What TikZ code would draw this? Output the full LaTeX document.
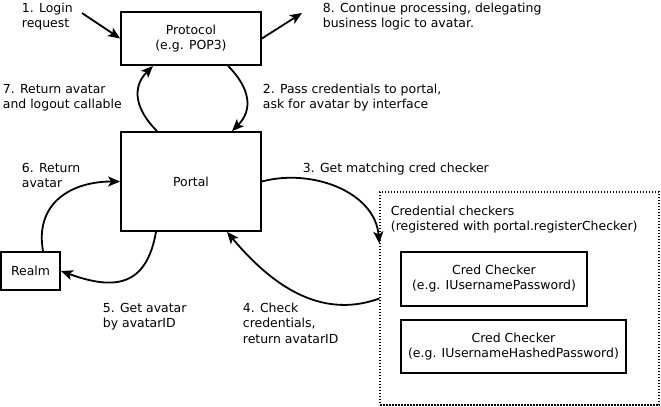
\documentclass[tikz,border=0pt]{standalone}
\usepackage{fontspec}
\setmainfont{DejaVu Sans}
\usetikzlibrary{arrows.meta}
\def\boxnode{\node[draw,inner sep=0pt,align=center]}
\def\textnode{\node[inner sep=0pt,anchor=base west,align=left]}

\begin{document}
\begin{tikzpicture}[x=1bp,y=1bp,line width=1.8bp,>={Stealth[length=12bp,width=10bp,inset=3bp]},font=\fontsize{12.5}{15.5}\selectfont]
\useasboundingbox (0,0) rectangle (661,406);
\boxnode[minimum width=140bp,minimum height=53bp] (proto) at (191,367.5) {Protocol\\(e.g. POP3)};
\boxnode[minimum width=140bp,minimum height=99bp] (portal) at (191,224.5) {Portal};
\boxnode[minimum width=59bp,minimum height=38bp] (realm) at (30.5,135) {Realm};
\node[draw,line width=1.3bp,dash pattern=on 1.5bp off 1.5bp,minimum width=279bp,minimum height=213bp] (creds) at (519.5,107.5) {};
\boxnode[minimum width=186bp,minimum height=54bp] (pw) at (494,127.3) {Cred Checker\\(e.g. IUsernamePassword)};
\boxnode[minimum width=225bp,minimum height=53bp] (hashed) at (513.5,59.7) {Cred Checker\\(e.g. IUsernameHashedPassword)};
\coordinate (req) at (82,393);
\coordinate (fwd) at (302,393);
\textnode (login) at (21,378.5) {1. Login\\request};
\textnode (cont) at (322,378.5) {8. Continue processing, delegating\\business logic to avatar.};
\textnode (pass) at (262,297.5) {2. Pass credentials to portal,\\ask for avatar by interface};
\textnode (ret) at (2,297.5) {7. Return avatar\\and logout callable};
\textnode (retav) at (21,218.5) {6. Return\\avatar};
\textnode (match) at (302,234) {3. Get matching cred checker};
\textnode (credlbl) at (390,175.5) {Credential checkers\\(registered with portal.registerChecker)};
\textnode (getav) at (102,78.5) {5. Get avatar\\by avatarID};
\textnode (check) at (242,63) {4. Check\\credentials,\\return avatarID};
\draw[->] (req) -- (proto.west);
\draw[->] (proto.east) -- (fwd);
\draw[->,out=-45,in=45,looseness=1.2] ([xshift=37bp]proto.south) to ([xshift=41bp]portal.north);
\draw[->,out=135,in=-135,looseness=1.2] ([xshift=-34bp]portal.north) to ([xshift=-38bp]proto.south);
\draw[->,out=15,in=95] (portal.east) to ([yshift=55bp]creds.west);
\draw[->,out=200,in=-50] (creds.west) to ([xshift=36bp]portal.south);
\draw[->,out=-100,in=-20,looseness=1.4] ([xshift=-35bp]portal.south) to (realm.east);
\draw[->,out=100,in=180,looseness=1.2] ([xshift=12.5bp]realm.north) to (portal.west);
\end{tikzpicture}
\end{document}
